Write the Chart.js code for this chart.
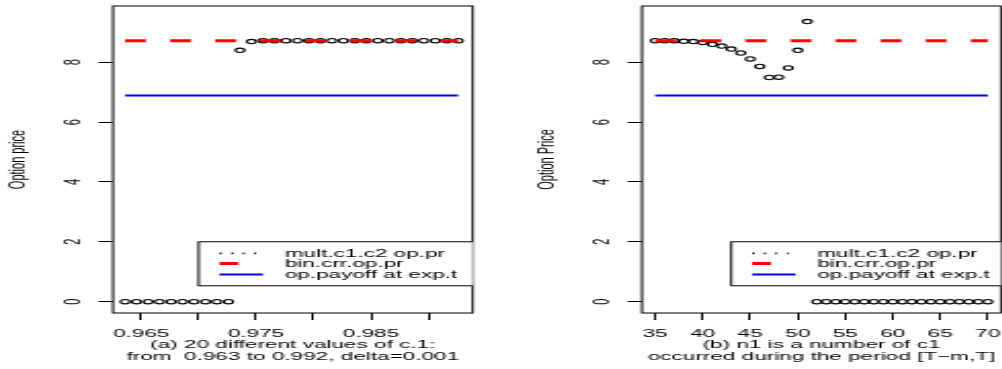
<!DOCTYPE html>
<html>
<head>
<meta charset="utf-8">
<script src="https://cdn.jsdelivr.net/npm/chart.js@4.4.1/dist/chart.umd.min.js"></script>
<style>
  html, body { margin: 0; padding: 0; background: #fff; }
  #wrap { position: relative; width: 1002px; height: 369px; overflow: hidden; background: #fff; }
  canvas { position: absolute; top: 0; }
</style>
</head>
<body>
<div id="wrap">
  <canvas id="panelA" width="245" height="369" style="left:0px;width:502px;height:369px"></canvas>
  <canvas id="panelB" width="245" height="369" style="left:528.7px;width:502px;height:369px"></canvas>
</div>
<script>
// panel (a): option price against c.1
const cValues = [0.9636, 0.9646, 0.9656, 0.9666, 0.9676, 0.9686, 0.9696, 0.9706, 0.9716, 0.9726,
  0.9736, 0.9746, 0.9756, 0.9766, 0.9776, 0.9786, 0.9796, 0.9806, 0.9816, 0.9826,
  0.9836, 0.9846, 0.9856, 0.9866, 0.9876, 0.9886, 0.9896, 0.9906, 0.9916, 0.9926];
const multPriceA = [0, 0, 0, 0, 0, 0, 0, 0, 0, 0,
  8.40, 8.69, 8.72, 8.72, 8.72, 8.72, 8.72, 8.72, 8.72, 8.72,
  8.72, 8.72, 8.72, 8.72, 8.72, 8.72, 8.72, 8.72, 8.72, 8.72];

// panel (b): option price against n1
const n1Values = [35, 36, 37, 38, 39, 40, 41, 42, 43, 44, 45, 46, 47, 48, 49, 50, 51, 52,
  53, 54, 55, 56, 57, 58, 59, 60, 61, 62, 63, 64, 65, 66, 67, 68, 69, 70];
const multPriceB = [8.72, 8.72, 8.72, 8.70, 8.69, 8.66, 8.60, 8.54, 8.44, 8.31, 8.11, 7.86,
  7.49, 7.50, 7.81, 8.40, 9.36, 0, 0, 0, 0, 0, 0, 0, 0, 0, 0, 0, 0, 0, 0, 0, 0, 0, 0, 0];

const binCrrPrice = 8.72;
const payoffAtExp = 6.89;

const yTicks = [0, 2, 4, 6, 8];
const xTicksA = [0.965, 0.970, 0.975, 0.980, 0.985, 0.990];
const xTickLabelsA = ['0.965', '', '0.975', '', '0.985', ''];
const xTicksB = [35, 40, 45, 50, 55, 60, 65, 70];
const xTickLabelsB = ['35', '40', '45', '50', '55', '60', '65', '70'];

const legendLabels = ['mult.c1.c2 op.pr', 'bin.crr.op.pr', 'op.payoff at exp.t'];

const FONT = 'Liberation Sans, Arial, Helvetica, sans-serif';

const boxPlugin = {
  id: 'box',
  afterDatasetsDraw(chart) {
    const a = chart.chartArea, ctx = chart.ctx;
    ctx.save();
    ctx.strokeStyle = '#000'; ctx.lineWidth = 1;
    ctx.strokeRect(a.left, a.top, a.right - a.left, a.bottom - a.top);
    ctx.restore();
  }
};

// R style y labels, turned parallel to the axis
const yLabelPlugin = {
  id: 'yLabels',
  afterDraw(chart) {
    const sc = chart.scales.y, ctx = chart.ctx;
    ctx.save();
    ctx.fillStyle = '#000';
    ctx.font = '11px ' + FONT;
    ctx.textAlign = 'center'; ctx.textBaseline = 'middle';
    sc.ticks.forEach(t => {
      ctx.save();
      ctx.translate(35.5, sc.getPixelForValue(t.value));
      ctx.rotate(-Math.PI / 2);
      ctx.fillText(String(t.value), 0, 0);
      ctx.restore();
    });
    ctx.restore();
  }
};

const legendPlugin = {
  id: 'rLegend',
  afterDraw(chart, args, opts) {
    const a = chart.chartArea, ctx = chart.ctx;
    const L = chart.scales.x.getPixelForValue(opts.at[0]);
    const T = chart.scales.y.getPixelForValue(opts.at[1]);
    ctx.save();
    ctx.beginPath(); ctx.rect(a.left, a.top, a.right - a.left, a.bottom - a.top); ctx.clip();
    ctx.fillStyle = '#fff';
    ctx.fillRect(L, T, a.right - L + 5, 44);
    ctx.strokeStyle = '#000'; ctx.lineWidth = 1;
    ctx.strokeRect(L, T, a.right - L + 5, 44);
    // symbols
    ctx.setLineDash([1, 4.6]); ctx.lineWidth = 1.6; ctx.strokeStyle = '#000';
    ctx.beginPath(); ctx.moveTo(L + 10.3, T + 11.6); ctx.lineTo(L + 28, T + 11.6); ctx.stroke();
    ctx.setLineDash([]); ctx.lineWidth = 3; ctx.strokeStyle = '#ff0000';
    ctx.beginPath(); ctx.moveTo(L + 10.2, T + 21.7); ctx.lineTo(L + 19.4, T + 21.7); ctx.stroke();
    ctx.lineWidth = 2; ctx.strokeStyle = '#0000ff';
    ctx.beginPath(); ctx.moveTo(L + 10.2, T + 32.6); ctx.lineTo(L + 31.4, T + 32.6); ctx.stroke();
    ctx.fillStyle = '#000'; ctx.font = '11px ' + FONT;
    ctx.textAlign = 'left'; ctx.textBaseline = 'alphabetic';
    legendLabels.forEach((s, i) => ctx.fillText(s, L + 42, T + 15 + i * 10.5));
    ctx.restore();
  }
};

function makePanel(id, cfg) {
  const pts = cfg.xs.map((x, i) => ({ x, y: cfg.ys[i] }));
  const x0 = cfg.xs[0], x1 = cfg.xs[cfg.xs.length - 1];
  const font = { family: FONT, size: 11 };
  return new Chart(document.getElementById(id), {
    type: 'line',
    data: {
      datasets: [
        { label: legendLabels[1], data: [{ x: x0, y: binCrrPrice }, { x: x1, y: binCrrPrice }],
          borderColor: '#ff0000', borderWidth: 3, borderDash: [10.2, 11.8], pointRadius: 0, order: 0 },
        { label: legendLabels[2], data: [{ x: x0, y: payoffAtExp }, { x: x1, y: payoffAtExp }],
          borderColor: '#0000ff', borderWidth: 2, pointRadius: 0, order: 1 },
        { label: legendLabels[0], data: pts, showLine: false, pointStyle: 'circle', pointRadius: 2.2,
          pointBorderWidth: 1.1, pointBorderColor: '#000', pointBackgroundColor: 'rgba(0,0,0,0)', order: 2 },
      ]
    },
    options: {
      responsive: false, animation: false, events: [],
      layout: { padding: { top: 6, right: cfg.padRight, bottom: 0, left: 0 } },
      plugins: { legend: { display: false }, tooltip: { enabled: false }, rLegend: { at: cfg.legendAt } },
      scales: {
        x: {
          type: 'linear', min: cfg.xMin, max: cfg.xMax,
          afterBuildTicks: s => { s.ticks = cfg.xTicks.map(v => ({ value: v })); },
          afterFit: s => { s.height = 56; },
          grid: { drawOnChartArea: false, drawTicks: true, tickLength: 7, color: '#000', lineWidth: 1 },
          border: { display: false },
          ticks: { autoSkip: false, maxRotation: 0, minRotation: 0, padding: 7, color: '#000', font,
            callback: (v, i) => cfg.xTickLabels[i] },
          title: { display: true, text: cfg.xTitle, color: '#000',
            font: { family: FONT, size: 11, lineHeight: 1.145 }, padding: { top: 0, bottom: 5.4 } }
        },
        y: {
          type: 'linear', min: -0.38, max: 9.88,
          afterBuildTicks: s => { s.ticks = yTicks.map(v => ({ value: v })); },
          afterFit: s => { s.width = 55.1; },
          grid: { drawOnChartArea: false, drawTicks: true, tickLength: 7, color: '#000', lineWidth: 1 },
          border: { display: false },
          ticks: { display: false },
          title: { display: true, text: cfg.yTitle, color: '#000', font, padding: { top: 2.2, bottom: 0 } }
        }
      }
    },
    plugins: [boxPlugin, yLabelPlugin, legendPlugin]
  });
}

makePanel('panelA', {
  xs: cValues, ys: multPriceA, xMin: 0.96254, xMax: 0.99386, padRight: 14.3,
  xTicks: xTicksA, xTickLabels: xTickLabelsA, legendAt: [0.970, 2],
  xTitle: ['(a) 20 different values of c.1:', 'from  0.963 to 0.992, delta=0.001'],
  yTitle: 'Option price'
});
makePanel('panelB', {
  xs: n1Values, ys: multPriceB, xMin: 33.6, xMax: 71.4, padRight: 14.6,
  xTicks: xTicksB, xTickLabels: xTickLabelsB, legendAt: [43, 2],
  xTitle: ['(b) n1 is a number of c1', 'occurred during the period [T\u2212m,T]'],
  yTitle: 'Option Price'
});
</script>
</body>
</html>
